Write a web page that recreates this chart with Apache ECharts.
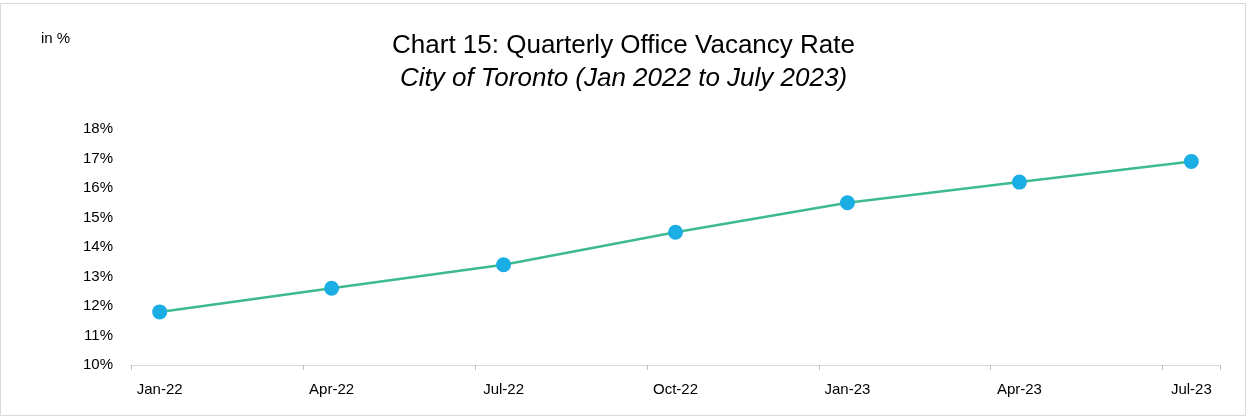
<!DOCTYPE html>
<html><head><meta charset="utf-8">
<script src="https://cdn.jsdelivr.net/npm/echarts@6/dist/echarts.min.js"></script>
<style>html,body{margin:0;padding:0;background:#fff}#c{width:1247px;height:419px}</style>
</head><body><div id="c"></div>
<script>
const months = ['Jan-22','Feb-22','Mar-22','Apr-22','May-22','Jun-22','Jul-22','Aug-22','Sep-22','Oct-22','Nov-22','Dec-22','Jan-23','Feb-23','Mar-23','Apr-23','May-23','Jun-23','Jul-23'];
const quarters = ['Jan-22','Apr-22','Jul-22','Oct-22','Jan-23','Apr-23','Jul-23'];
const vacancy = [11.8, 12.6, 13.4, 14.5, 15.5, 16.2, 16.9];
const yTicks = [10, 11, 12, 13, 14, 15, 16, 17, 18];

const font = 'Liberation Sans, Arial, sans-serif';
const chart = echarts.init(document.getElementById('c'));
chart.setOption({
  animation: false,
  title: [{
    text: 'Chart 15: Quarterly Office Vacancy Rate',
    subtext: 'City of Toronto (Jan 2022 to July 2023)',
    left: 'center', top: 28, itemGap: 7,
    textStyle: {fontFamily: font, fontSize: 26, fontWeight: 'normal', color: '#000'},
    subtextStyle: {fontFamily: font, fontSize: 26, fontStyle: 'italic', color: '#000'}
  }, {
    text: 'in %', left: 36, top: 26,
    textStyle: {fontFamily: font, fontSize: 15, fontWeight: 'normal', color: '#000'}
  }],
  graphic: [{type: 'rect', shape: {x: 0.5, y: 3.5, width: 1245, height: 412}, style: {fill: 'none', stroke: '#d9d9d9', lineWidth: 1}}],
  grid: {left: 131, right: 27, top: 129, bottom: 54},
  xAxis: {
    type: 'category', data: months, boundaryGap: true,
    axisLine: {lineStyle: {color: '#d9d9d9', width: 1}},
    axisTick: {show: true, interval: 2, length: 5, lineStyle: {color: '#bfbfbf'}},
    axisLabel: {interval: 2, color: '#000', fontFamily: font, fontSize: 15, margin: 17}
  },
  yAxis: {
    type: 'value', min: yTicks[0], max: yTicks[yTicks.length - 1], interval: 1,
    axisLine: {show: false}, axisTick: {show: false}, splitLine: {show: false},
    axisLabel: {color: '#000', fontFamily: font, fontSize: 15, margin: 18, formatter: v => v + '%'}
  },
  series: [{
    type: 'line',
    data: quarters.map((q, i) => [q, vacancy[i]]),
    lineStyle: {color: '#3dbb8f', width: 2.5},
    symbol: 'circle', symbolSize: 15,
    itemStyle: {color: '#1aaee5'}
  }]
});
</script></body></html>
